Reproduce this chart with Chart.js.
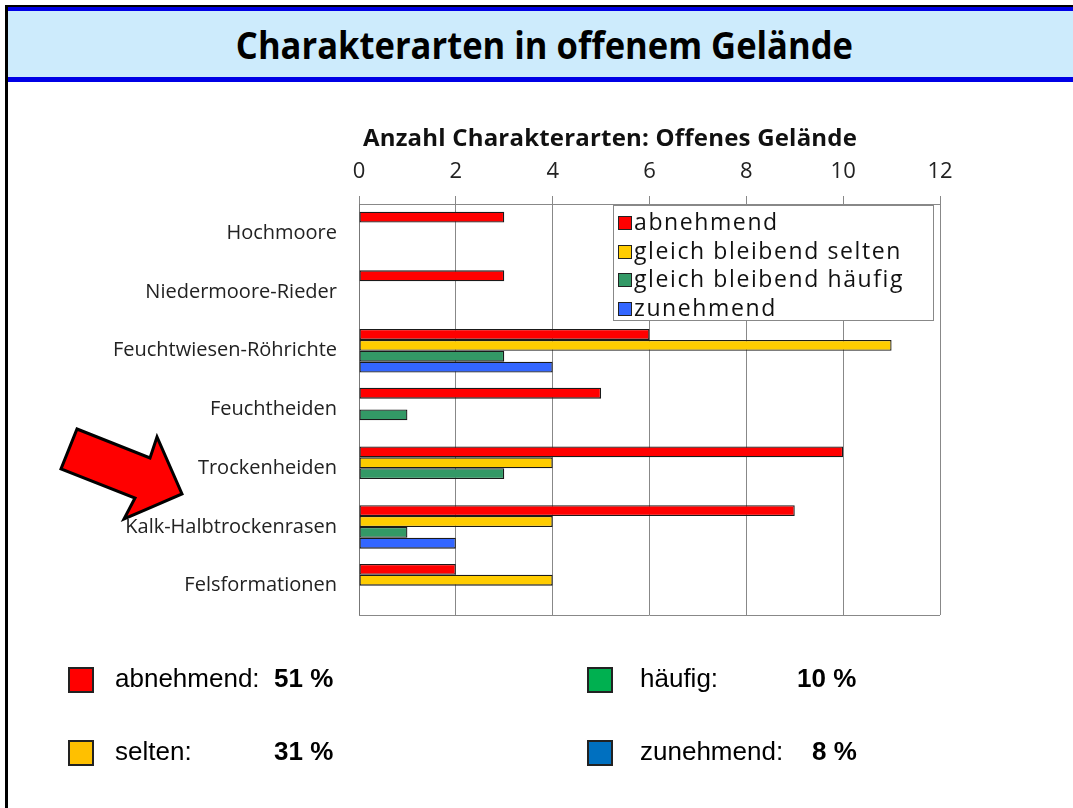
<!DOCTYPE html>
<html>
<head>
<meta charset="utf-8">
<script src="https://cdn.jsdelivr.net/npm/chart.js@4.4.1/dist/chart.umd.min.js"></script>
<style>
  body { margin: 0; background: #fff; }
  #page { position: relative; width: 1073px; height: 808px; overflow: hidden; background: #fff; }
  #frame { position: absolute; left: 5px; top: 5px; width: 1070px; height: 810px; border-left: 3px solid #000; border-top: 2px solid #000; }
  #band { position: absolute; left: 8px; top: 7px; width: 1070px; height: 66px; background: #cdebfc;
          border-top: 4px solid #0000e6; border-bottom: 5px solid #0000e6; }
  #mainTitle { position: absolute; left: 8px; top: 20px; width: 1073px; text-align: center;
          font: bold 36px "Open Sans", sans-serif; color: #000; }
  #mainTitle span { display: inline-block; transform: scale(0.96, 1.05); }
  #chartTitle { position: absolute; left: 359px; top: 120px; width: 502px; text-align: center;
          font: bold 24px "Open Sans", sans-serif; letter-spacing: 0.2px; color: #111; white-space: nowrap; }
  #chart { position: absolute; left: 0; top: 0; }
  #legend { position: absolute; left: 613px; top: 205px; width: 321px; height: 116px; background: #fff;
          border: 1px solid #888; box-sizing: border-box; padding: 1px 0 0 4px; }
  #legend div { font: 23px "Open Sans", sans-serif; letter-spacing: 1.6px; color: #111; height: 28.5px; line-height: 28px; white-space: nowrap; }
  #legend i { display: inline-block; width: 12px; height: 12px; border: 1px solid #222; margin-right: 2px; vertical-align: 0px; }
  .share { position: absolute; font: 26px "Liberation Sans", Arial, sans-serif; color: #000; white-space: nowrap; }
  .share i { position: absolute; left: 0; top: 0; width: 22px; height: 22px; border: 2px solid #222; }
  .share span { position: absolute; top: -4px; }
  .share b { position: absolute; top: -4px; }
  svg { position: absolute; left: 0; top: 0; }
</style>
</head>
<body>
<div id="page">
  <div id="frame"></div>
  <div id="band"></div>
  <div id="mainTitle"><span>Charakterarten in offenem Gelände</span></div>
  <canvas id="chart" width="1073" height="808"></canvas>
  <div id="chartTitle">Anzahl Charakterarten: Offenes Gelände</div>
  <div id="legend"></div>
  <svg width="1073" height="808">
    <polygon points="77,429 150,458 157,437 182,494 124,519 135,498 61,469" fill="#ff0000" stroke="#000" stroke-width="3" stroke-linejoin="miter"/>
  </svg>
  <div id="shares"></div>
</div>
<script>
// Kategorien (von oben nach unten)
const categories = ["Hochmoore", "Niedermoore-Rieder", "Feuchtwiesen-Röhrichte", "Feuchtheiden",
  "Trockenheiden", "Kalk-Halbtrockenrasen", "Felsformationen"];

// Anzahl Charakterarten je Trend
const abnehmend = [3, 3, 6, 5, 10, 9, 2];
const gleichSelten = [null, null, 11, null, 4, 4, 4];
const gleichHaeufig = [null, null, 3, 1, 3, 1, null];
const zunehmend = [null, null, 4, null, null, 2, null];

const seriesNames = ["abnehmend", "gleich bleibend selten", "gleich bleibend häufig", "zunehmend"];
const seriesColors = ["#ff0000", "#ffcc00", "#339966", "#3366ff"];

const xTicks = [0, 2, 4, 6, 8, 10, 12];

// Anteile unten
const shareNames = ["abnehmend:", "selten:", "häufig:", "zunehmend:"];
const shareValues = ["51 %", "31 %", "10 %", "8 %"];
const shareColors = ["#ff0000", "#ffc000", "#00b050", "#0070c0"];

const seriesData = [abnehmend, gleichSelten, gleichHaeufig, zunehmend];

// unterer Rand der Zeichenfläche
const bottomLine = {
  id: "bottomLine",
  afterDraw(chart) {
    const a = chart.chartArea, ctx = chart.ctx;
    ctx.save();
    ctx.strokeStyle = "#888";
    ctx.lineWidth = 1;
    ctx.beginPath();
    ctx.moveTo(a.left, Math.round(a.bottom) + 0.5);
    ctx.lineTo(a.right, Math.round(a.bottom) + 0.5);
    ctx.stroke();
    ctx.restore();
  }
};

new Chart(document.getElementById("chart"), {
  type: "bar",
  data: {
    labels: categories,
    datasets: seriesData.map((d, i) => ({
      label: seriesNames[i],
      data: d,
      backgroundColor: seriesColors[i],
      borderColor: "#1a1a1a",
      borderWidth: 1.3,
      borderSkipped: false,
      barPercentage: 1,
      categoryPercentage: 0.74
    }))
  },
  options: {
    indexAxis: "y",
    responsive: false,
    animation: false,
    devicePixelRatio: 1,
    layout: { padding: { left: 0, right: 133, top: 0, bottom: 193 } },
    plugins: { legend: { display: false }, tooltip: { enabled: false } },
    scales: {
      x: {
        position: "top",
        min: 0,
        max: 12,
        afterFit: (s) => { s.height = 204; },
        afterBuildTicks: (s) => { s.ticks = xTicks.map(v => ({ value: v })); },
        grid: { color: "#888", lineWidth: 1, tickLength: 8 },
        border: { display: true, color: "#888" },
        ticks: { font: { family: "Open Sans", size: 22 }, color: "#222", padding: 11 }
      },
      y: {
        afterFit: (s) => { s.width = 359; },
        grid: { display: false },
        border: { display: true, color: "#777" },
        ticks: { font: { family: "Open Sans", size: 20 }, color: "#222", padding: 14 }
      }
    }
  },
  plugins: [bottomLine]
});

// Legende in der Grafik
const legend = document.getElementById("legend");
seriesNames.forEach((n, i) => {
  legend.innerHTML += `<div><i style="background:${seriesColors[i]}"></i>${n}</div>`;
});

// Anteile unten
const pos = [[68, 667, 115, 274], [68, 740, 115, 274], [587, 667, 640, 797], [587, 740, 640, 812]];
const shares = document.getElementById("shares");
shareNames.forEach((n, i) => {
  const p = pos[i];
  shares.innerHTML += `<div class="share" style="left:${p[0]}px;top:${p[1]}px">
      <i style="background:${shareColors[i]}"></i>
      <span style="left:${p[2] - p[0]}px">${n}</span>
      <b style="left:${p[3] - p[0]}px">${shareValues[i]}</b></div>`;
});
</script>
</body>
</html>
